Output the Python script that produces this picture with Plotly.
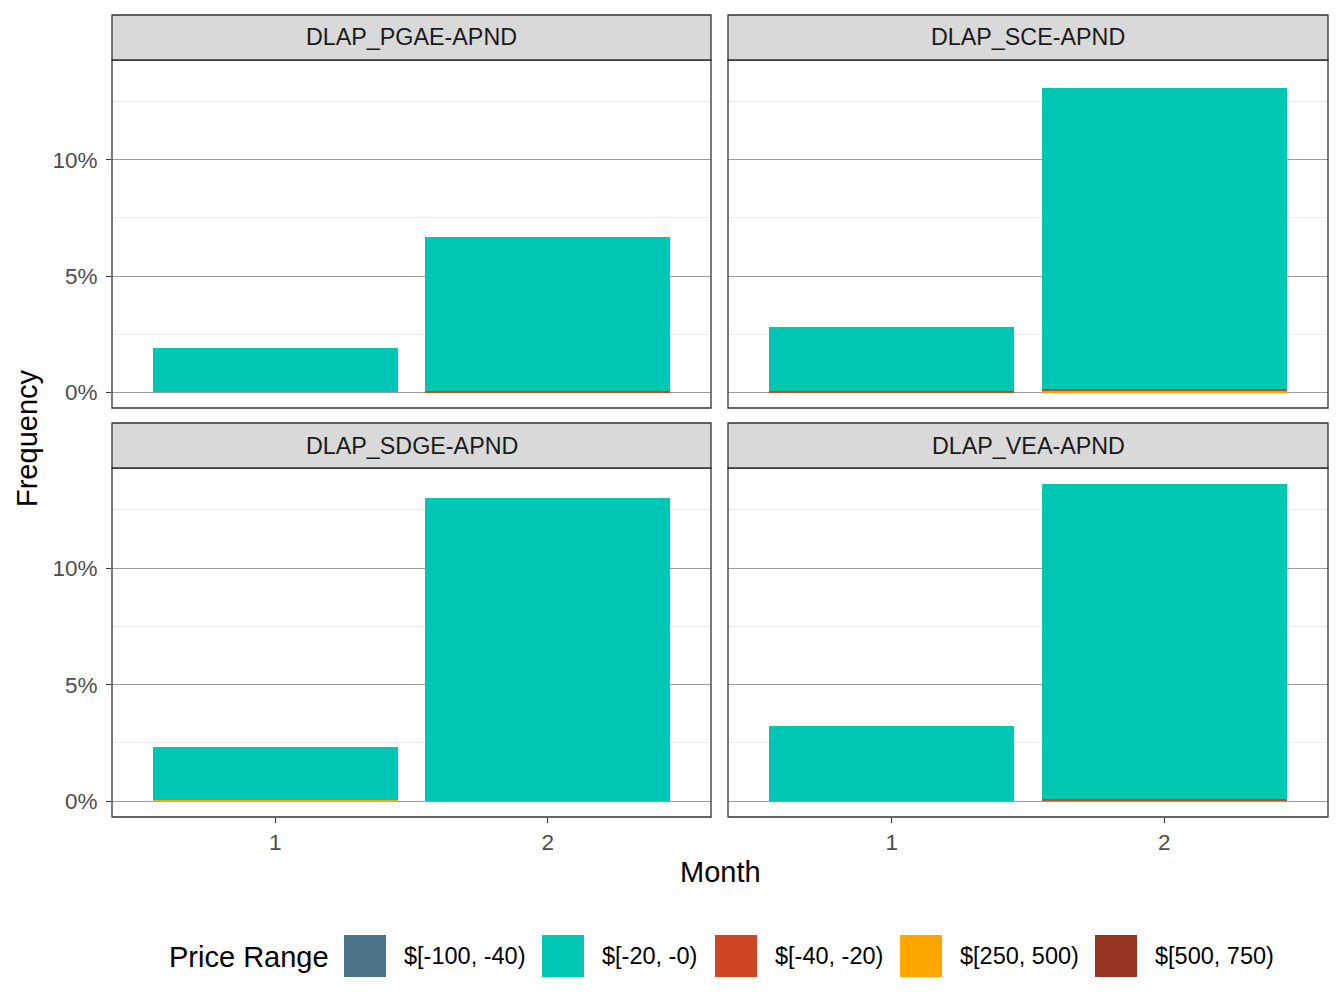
import plotly.graph_objects as go
from plotly.subplots import make_subplots

# facet panels and x categories
regions = ["DLAP_PGAE-APND", "DLAP_SCE-APND", "DLAP_SDGE-APND", "DLAP_VEA-APND"]
months = ["1", "2"]

# price range levels (legend order) and their colours
price_ranges = ["$[-100, -40)", "$[-20, -0)", "$[-40, -20)", "$[250, 500)", "$[500, 750)"]
range_colors = ["#4E7489", "#00C7B3", "#D04522", "#FFA500", "#963522"]

# y ticks
y_ticks = [0, 5, 10]
y_ticklabels = ["0%", "5%", "10%"]

# frequency in % per region, per price range, per month
pgae = {"$[-100, -40)": [0, 0], "$[-20, -0)": [1.90, 6.63], "$[-40, -20)": [0, 0.05],
        "$[250, 500)": [0, 0], "$[500, 750)": [0, 0]}
sce = {"$[-100, -40)": [0, 0], "$[-20, -0)": [2.76, 12.98], "$[-40, -20)": [0.04, 0.05],
       "$[250, 500)": [0, 0.07], "$[500, 750)": [0, 0]}
sdge = {"$[-100, -40)": [0, 0], "$[-20, -0)": [2.29, 13.02], "$[-40, -20)": [0, 0],
        "$[250, 500)": [0.04, 0], "$[500, 750)": [0, 0]}
vea = {"$[-100, -40)": [0, 0], "$[-20, -0)": [3.23, 13.53], "$[-40, -20)": [0, 0.09],
       "$[250, 500)": [0, 0], "$[500, 750)": [0, 0]}
region_data = [pgae, sce, sdge, vea]

W, H = 1344, 1008
font = "Liberation Sans, Arial, sans-serif"

fig = make_subplots(rows=2, cols=2)

for k, data in enumerate(region_data):
    r, c = k // 2 + 1, k % 2 + 1
    # ggplot stacks the first level on top, so add bottom-most last level first
    for lvl, col in reversed(list(zip(price_ranges, range_colors))):
        fig.add_trace(go.Bar(x=months, y=data[lvl], name=lvl, marker_color=col,
                             marker_line_width=0, width=0.9, showlegend=False,
                             hovertemplate=lvl + "<br>Month %{x}: %{y:.2f}%<extra></extra>"),
                      row=r, col=c)

# panel geometry in pixels
px_cols = [(112, 711), (728, 1328)]
px_rows = [(60, 408), (468, 817)]
strip_h = 45

def xd(a, b):
    return [a / W, b / W]

def yd(top, bot):
    return [1 - bot / H, 1 - top / H]

ymax = max(sum(d[l][i] for l in price_ranges) for d in region_data for i in range(2))
yrange = [-0.05 * ymax, ymax * 1.05]

shapes = []
annotations = []
for k in range(4):
    r, c = k // 2, k % 2
    n = "" if k == 0 else str(k + 1)
    x0, x1 = px_cols[c]
    t, b = px_rows[r]
    fig.layout["xaxis" + n].update(
        domain=xd(x0, x1), range=[-0.6, 1.6], type="category",
        showgrid=False, zeroline=False, showline=False,
        ticks="outside" if r == 1 else "", ticklen=5, tickcolor="#333333", tickwidth=1.3,
        showticklabels=(r == 1), tickfont=dict(size=22.5, color="#4D4D4D", family=font))
    fig.layout["yaxis" + n].update(
        domain=yd(t, b), range=yrange, tickmode="array", tickvals=y_ticks, ticktext=y_ticklabels,
        showgrid=True, gridcolor="#9A9A9A", gridwidth=1, zeroline=False, showline=False,
        minor=dict(tickvals=[2.5, 7.5, 12.5], showgrid=True, gridcolor="#EBEBEB", gridwidth=1),
        ticks="outside" if c == 0 else "", ticklen=5, tickcolor="#333333", tickwidth=1.3,
        ticklabelstandoff=4,
        showticklabels=(c == 0), tickfont=dict(size=22.5, color="#4D4D4D", family=font))
    # panel border
    shapes.append(dict(type="rect", xref="paper", yref="paper",
                       x0=x0 / W, x1=x1 / W, y0=1 - b / H, y1=1 - t / H,
                       line=dict(color="#333333", width=1.3), fillcolor="rgba(0,0,0,0)", layer="above"))
    # strip
    shapes.append(dict(type="rect", xref="paper", yref="paper",
                       x0=x0 / W, x1=x1 / W, y0=1 - t / H, y1=1 - (t - strip_h) / H,
                       line=dict(color="#333333", width=1.3), fillcolor="#D9D9D9"))
    annotations.append(dict(text=regions[k], xref="paper", yref="paper",
                            x=(x0 + x1) / 2 / W, y=1 - (t - strip_h / 2) / H,
                            xanchor="center", yanchor="middle",
                            showarrow=False, font=dict(size=23.3, color="#1A1A1A", family=font)))

# axis titles
annotations.append(dict(text="Month", xref="paper", yref="paper", x=720 / W, y=1 - 872 / H,
                        xanchor="center", yanchor="middle",
                        showarrow=False, font=dict(size=29, color="black", family=font)))
annotations.append(dict(text="Frequency", xref="paper", yref="paper", x=27 / W, y=1 - 438 / H,
                        xanchor="center", yanchor="middle",
                        textangle=-90, showarrow=False, font=dict(size=29, color="black", family=font)))

# legend drawn by hand to get ggplot-sized keys
annotations.append(dict(text="Price Range", xref="paper", yref="paper", x=167 / W, y=1 - 957 / H,
                        xanchor="left", yanchor="middle",
                        showarrow=False, font=dict(size=29, color="black", family=font)))
key_x = [344, 542, 715, 900, 1095]
for lvl, col, kx in zip(price_ranges, range_colors, key_x):
    shapes.append(dict(type="rect", xref="paper", yref="paper",
                       x0=kx / W, x1=(kx + 42) / W, y0=1 - 977 / H, y1=1 - 935 / H,
                       line=dict(width=0), fillcolor=col))
    annotations.append(dict(text=lvl, xref="paper", yref="paper", x=(kx + 58) / W, y=1 - 956 / H,
                            xanchor="left", yanchor="middle",
                            showarrow=False, font=dict(size=23.5, color="black", family=font)))

fig.update_layout(
    width=W, height=H, barmode="stack", bargap=0.1,
    margin=dict(l=0, r=0, t=0, b=0),
    paper_bgcolor="white", plot_bgcolor="white",
    shapes=shapes, annotations=annotations, showlegend=False,
    font=dict(family=font),
)

fig.write_html("out.html", config={"displayModeBar": False},
               post_script="document.body.style.margin='0';")
